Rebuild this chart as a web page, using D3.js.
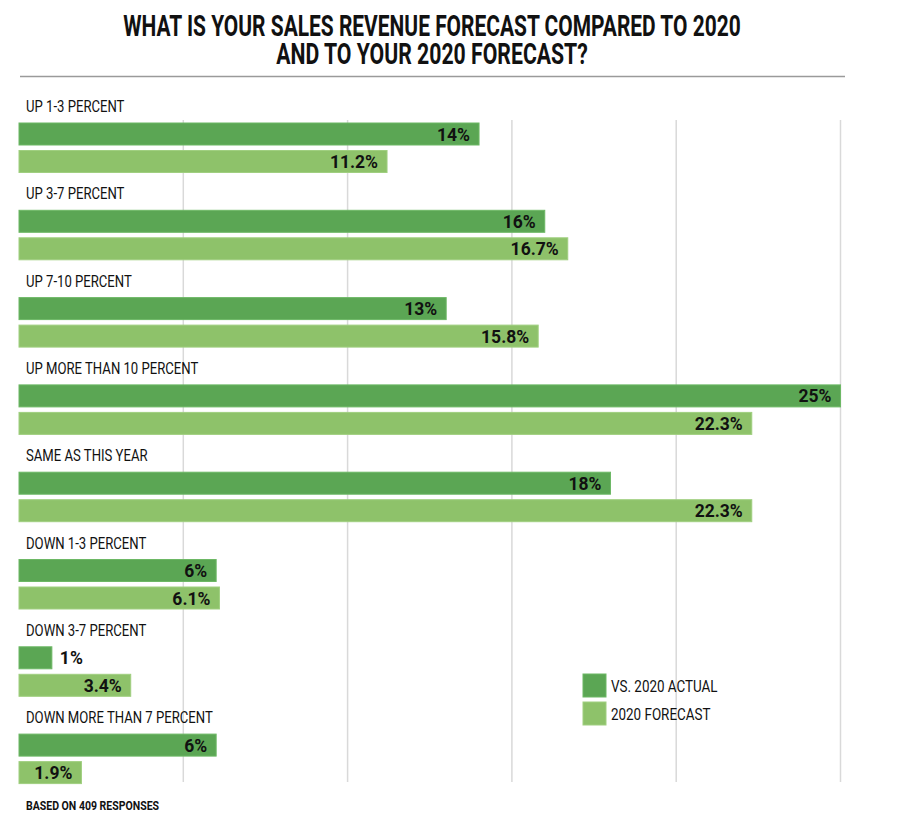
<!DOCTYPE html>
<html><head><meta charset="utf-8">
<script src="https://cdn.jsdelivr.net/npm/d3@7"></script>
<style>
html,body{margin:0;padding:0;background:#fff;}
svg text{font-family:Roboto,"Noto Sans",sans-serif;fill:#111;}
</style></head>
<body>
<svg id="chart" width="900" height="829"></svg>
<script>
const titleLines = ["WHAT IS YOUR SALES REVENUE FORECAST COMPARED TO 2020", "AND TO YOUR 2020 FORECAST?"];
const categories = ["UP 1-3 PERCENT","UP 3-7 PERCENT","UP 7-10 PERCENT","UP MORE THAN 10 PERCENT","SAME AS THIS YEAR","DOWN 1-3 PERCENT","DOWN 3-7 PERCENT","DOWN MORE THAN 7 PERCENT"];
const seriesNames = ["VS. 2020 ACTUAL","2020 FORECAST"];
const actual = [14,16,13,25,18,6,1,6];
const forecast = [11.2,16.7,15.8,22.3,22.3,6.1,3.4,1.9];
const actualLabels = ["14%","16%","13%","25%","18%","6%","1%","6%"];
const forecastLabels = ["11.2%","16.7%","15.8%","22.3%","22.3%","6.1%","3.4%","1.9%"];
const gridTicks = [5,10,15,20,25];
const footnote = "BASED ON 409 RESPONSES";

const colors = ["#5ba654","#8ec26a"];
const strokes = ["#6db865","#a0cf80"];

const svg = d3.select("#chart");
const x = d3.scaleLinear().domain([0,25]).range([19,840.5]);
const y = d3.scaleBand().domain(categories).range([94, 94+87.3*8]).paddingInner(0).paddingOuter(0);
const barH = 22;
const offs = [29, 56.5];

// Title
titleLines.forEach((t,i)=>{
  svg.append("text")
    .attr("transform",`translate(432,${36+28*i}) scale(${i===0?0.71:0.72},1)`)
    .attr("text-anchor","middle")
    .style("font-size","29.5px").style("font-weight","700")
    .text(t);
});
svg.append("line").attr("x1",20).attr("x2",845).attr("y1",76.5).attr("y2",76.5)
  .attr("stroke","#9a9a9a").attr("stroke-width",1.5);

// grid
svg.append("g").selectAll("line").data(gridTicks).join("line")
  .attr("x1",d=>x(d)).attr("x2",d=>x(d)).attr("y1",120).attr("y2",782)
  .attr("stroke","#d9d9d9").attr("stroke-width",1.5);

// groups
const g = svg.append("g").selectAll("g").data(categories).join("g")
  .attr("transform",d=>`translate(0,${y(d)})`);

g.append("text")
  .attr("transform","translate(26,18) scale(0.82,1)")
  .style("font-size","16px")
  .text(d=>d);

[actual, forecast].forEach((vals,si)=>{
  const labs = si===0?actualLabels:forecastLabels;
  g.append("rect")
    .attr("x",x(0)).attr("y",offs[si])
    .attr("width",(d,i)=>x(vals[i])-x(0)).attr("height",barH)
    .attr("fill",colors[si]).attr("stroke",strokes[si]).attr("stroke-width",1);
  g.append("text")
    .style("font-size","17.5px").style("font-weight","700")
    .text((d,i)=>labs[i])
    .each(function(d,i){
      const w = this.getComputedTextLength();
      const end = x(vals[i]);
      const bw = end - x(0);
      const el = d3.select(this);
      if (bw < w + 16){
        el.attr("x", end + 8).attr("text-anchor","start");
      } else {
        el.attr("x", end - 9).attr("text-anchor","end");
      }
      el.attr("y", offs[si] + 17.5);
    });
});

// legend
const leg = svg.append("g").selectAll("g").data(seriesNames).join("g")
  .attr("transform",(d,i)=>`translate(583,${674+28*i})`);
leg.append("rect").attr("width",23).attr("height",23)
  .attr("fill",(d,i)=>colors[i]).attr("stroke",(d,i)=>strokes[i]);
leg.append("text").attr("transform","translate(28,18) scale(0.79,1)")
  .style("font-size","17px").text(d=>d);

// footnote
svg.append("text").attr("transform","translate(26,810) scale(0.81,1)")
  .style("font-size","13px").style("font-weight","700").text(footnote);
</script>
</body></html>
